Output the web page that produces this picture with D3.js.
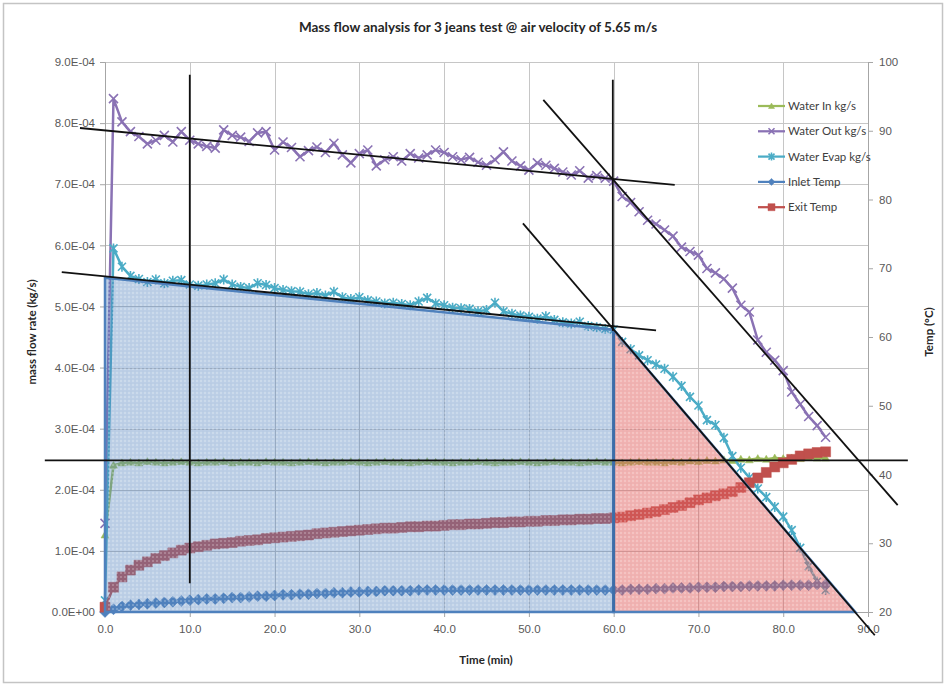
<!DOCTYPE html>
<html>
<head>
<meta charset="utf-8">
<script src="https://cdn.jsdelivr.net/npm/d3@7"></script>
<style>
  body { margin: 0; background: #fff; }
  svg { display: block; font-family: Lato, "Open Sans", sans-serif; }
</style>
</head>
<body>
<div id="chart"></div>
<script>
// time in minutes
var time = [0,1,2,3,4,5,6,7,8,9,
            10,11,12,13,14,15,16,17,18,19,
            20,21,22,23,24,25,26,27,28,29,
            30,31,32,33,34,35,36,37,38,39,
            40,41,42,43,44,45,46,47,48,49,
            50,51,52,53,54,55,56,57,58,59,
            60,61,62,63,64,65,66,67,68,69,
            70,71,72,73,74,75,76,77,78,79,
            80,81,82,83,84,85];

// mass flow values in units of 1E-04 kg/s
var waterIn = [1.26,2.40,2.44,2.45,2.44,2.46,2.45,2.44,2.45,2.46,
               2.45,2.44,2.45,2.45,2.46,2.44,2.45,2.45,2.44,2.46,
               2.45,2.45,2.44,2.45,2.46,2.45,2.44,2.45,2.45,2.46,
               2.45,2.44,2.45,2.46,2.45,2.45,2.44,2.45,2.46,2.45,
               2.45,2.44,2.45,2.45,2.46,2.45,2.44,2.45,2.45,2.46,
               2.45,2.44,2.45,2.46,2.45,2.45,2.44,2.45,2.46,2.45,
               2.45,2.44,2.45,2.46,2.45,2.45,2.44,2.46,2.45,2.47,
               2.46,2.48,2.47,2.49,2.48,2.50,2.49,2.51,2.50,2.52,
               2.51,2.52,2.51,2.53,2.52,2.52];

var waterOut = [1.45,8.40,8.02,7.86,7.78,7.66,7.72,7.80,7.69,7.86,
                7.72,7.66,7.62,7.59,7.89,7.80,7.77,7.70,7.84,7.86,
                7.56,7.69,7.60,7.45,7.55,7.61,7.52,7.67,7.48,7.35,
                7.50,7.56,7.30,7.40,7.45,7.38,7.50,7.43,7.48,7.56,
                7.52,7.45,7.40,7.44,7.36,7.31,7.40,7.53,7.38,7.30,
                7.23,7.35,7.31,7.26,7.20,7.15,7.22,7.10,7.14,7.10,
                7.05,6.80,6.70,6.55,6.41,6.35,6.25,6.15,5.97,5.90,
                5.84,5.62,5.55,5.45,5.30,5.02,4.91,4.45,4.25,4.12,
                3.95,3.60,3.40,3.20,3.05,2.86];

var waterEvap = [0.19,5.95,5.65,5.50,5.45,5.40,5.44,5.38,5.42,5.43,
                 5.36,5.34,5.36,5.38,5.44,5.36,5.32,5.30,5.38,5.35,
                 5.30,5.27,5.25,5.24,5.20,5.22,5.18,5.24,5.15,5.12,
                 5.15,5.10,5.08,5.05,5.06,5.04,5.02,5.08,5.14,5.05,
                 5.02,4.98,4.97,4.96,4.92,4.94,5.06,4.92,4.88,4.85,
                 4.83,4.80,4.84,4.78,4.74,4.72,4.75,4.68,4.66,4.63,
                 4.62,4.42,4.30,4.20,4.12,4.05,3.98,3.85,3.70,3.52,
                 3.38,3.14,3.06,2.85,2.55,2.36,2.20,2.02,1.88,1.72,
                 1.56,1.34,1.05,0.75,0.50,0.36];

// temperatures in °C (secondary axis)
var inletTemp = [20.0,20.4,20.8,21.0,21.1,21.2,21.3,21.4,21.5,21.6,
                 21.7,21.8,21.9,21.9,22.0,22.1,22.1,22.2,22.3,22.3,
                 22.4,22.5,22.5,22.6,22.6,22.7,22.7,22.8,22.8,22.9,
                 22.9,23.0,23.0,23.1,23.1,23.1,23.1,23.2,23.2,23.2,
                 23.2,23.2,23.2,23.2,23.2,23.2,23.2,23.2,23.2,23.2,
                 23.2,23.2,23.2,23.2,23.2,23.2,23.2,23.2,23.2,23.2,
                 23.2,23.2,23.3,23.3,23.3,23.4,23.4,23.5,23.5,23.5,
                 23.6,23.6,23.6,23.7,23.7,23.7,23.8,23.8,23.8,23.8,
                 23.9,23.9,23.9,23.9,24.0,24.0];

var exitTemp = [20.7,23.6,25.1,26.1,26.8,27.3,27.8,28.2,28.6,29.0,
                29.3,29.5,29.7,29.9,30.0,30.1,30.3,30.4,30.5,30.7,
                30.8,30.9,31.0,31.1,31.2,31.4,31.5,31.6,31.7,31.8,
                31.9,32.0,32.1,32.2,32.2,32.3,32.4,32.4,32.5,32.5,
                32.6,32.7,32.7,32.8,32.8,32.9,33.0,33.0,33.1,33.1,
                33.2,33.2,33.3,33.3,33.4,33.4,33.5,33.5,33.6,33.6,
                33.7,33.8,34.0,34.2,34.4,34.6,34.9,35.2,35.5,35.9,
                36.3,36.6,36.9,37.2,37.5,38.1,38.8,39.5,40.3,41.1,
                41.7,42.2,42.7,43.0,43.2,43.3];

// shaded regions (time, 1E-04 kg/s)
var blueAreaT = [0, 0, 60, 60];
var blueAreaV = [0, 5.47, 4.62, 0];
var redAreaT = [60, 60, 88.5];
var redAreaV = [0, 4.62, 0];

// hand drawn guide lines: [t1, v1, t2, v2]
var guideLines = [
  [10, 8.79, 10, 0.47],
  [59.9, 8.71, 59.9, 4.60],
  [-2.95, 7.92, 67.2, 6.99],
  [-5.1, 5.56, 65.0, 4.61],
  [51.7, 8.38, 93.5, 1.75],
  [49.3, 6.36, 90.8, -0.38],
  [-7.1, 2.48, 94.7, 2.48]
];

var xTicks = [0,10,20,30,40,50,60,70,80,90];
var yLeftTicks = [0,1,2,3,4,5,6,7,8,9];
var yRightTicks = [20,30,40,50,60,70,80,90,100];

var W = 947, H = 687;
var plot = {left: 105, right: 868, top: 62, bottom: 612};

var svg = d3.select("#chart").append("svg")
    .attr("width", W).attr("height", H);

svg.append("rect")
    .attr("x", 3.5).attr("y", 3.5)
    .attr("width", W - 8).attr("height", H - 8)
    .attr("fill", "#fff").attr("stroke", "#c4c4c4").attr("stroke-width", 1.5);

var x = d3.scaleLinear().domain([0, 90]).range([plot.left, plot.right]);
var yL = d3.scaleLinear().domain([0, 9]).range([plot.bottom, plot.top]);
var yR = d3.scaleLinear().domain([20, 100]).range([plot.bottom, plot.top]);

var defs = svg.append("defs");
var pat = defs.append("pattern")
    .attr("id", "dots").attr("width", 4).attr("height", 4)
    .attr("patternUnits", "userSpaceOnUse");
pat.append("circle").attr("cx", 1).attr("cy", 1).attr("r", 0.8)
    .attr("fill", "#ffffff").attr("opacity", 0.5);
pat.append("circle").attr("cx", 3).attr("cy", 3).attr("r", 0.5)
    .attr("fill", "#5a6f8a").attr("opacity", 0.15);

// grid
var grid = svg.append("g").attr("stroke", "#c6c6c6").attr("stroke-width", 1);
grid.selectAll(".hg").data(yLeftTicks.slice(1)).enter().append("line")
    .attr("x1", plot.left).attr("x2", plot.right)
    .attr("y1", d => Math.round(yL(d)) + 0.5).attr("y2", d => Math.round(yL(d)) + 0.5);
grid.selectAll(".vg").data(xTicks.slice(1, -1)).enter().append("line")
    .attr("y1", plot.top).attr("y2", plot.bottom)
    .attr("x1", d => Math.round(x(d)) + 0.5).attr("x2", d => Math.round(x(d)) + 0.5);

// axes
var fmtL = function(d) { return d === 0 ? "0.0E+00" : d.toFixed(1) + "E-04"; };
var axL = svg.append("g").attr("transform", "translate(" + plot.left + ",0)")
    .call(d3.axisLeft(yL).tickValues(yLeftTicks).tickFormat(fmtL).tickSize(5).tickPadding(5));
var axR = svg.append("g").attr("transform", "translate(" + plot.right + ",0)")
    .call(d3.axisRight(yR).tickValues(yRightTicks).tickFormat(d3.format("d")).tickSize(5).tickPadding(6));
var axB = svg.append("g").attr("transform", "translate(0," + plot.bottom + ")")
    .call(d3.axisBottom(x).tickValues(xTicks).tickFormat(d3.format(".1f")).tickSize(5).tickPadding(8));
[axL, axR, axB].forEach(function(a) {
  a.selectAll("path, line").attr("stroke", "#a6a6a6");
  a.selectAll("text").attr("fill", "#595959").attr("font-size", "11.5px");
});

// series
var flowSeries = [
  {name: "Water In kg/s", vals: waterIn, color: "#9BBB59", mark: "tri", axis: yL},
  {name: "Water Out kg/s", vals: waterOut, color: "#8A72B4", mark: "x", axis: yL},
  {name: "Water Evap kg/s", vals: waterEvap, color: "#4BACC6", mark: "ast", axis: yL},
  {name: "Inlet Temp", vals: inletTemp, color: "#4F81BD", mark: "dia", axis: yR},
  {name: "Exit Temp", vals: exitTemp, color: "#C0504D", mark: "sq", axis: yR}
];

var markPath = {
  tri: "M0,-4L4,3L-4,3Z",
  x: "M-4.5,-4.5L4.5,4.5M-4.5,4.5L4.5,-4.5",
  ast: "M-4,-4L4,4M-4,4L4,-4M0,-5L0,5",
  dia: "M0,-5.5L5.5,0L0,5.5L-5.5,0Z",
  sq: "M-5,-5h10v10h-10Z"
};
function drawMark(sel, s) {
  var stroked = (s.mark === "x" || s.mark === "ast");
  sel.attr("d", markPath[s.mark])
     .attr("fill", stroked ? "none" : s.color)
     .attr("stroke", s.color)
     .attr("stroke-width", stroked ? 1.6 : 0.5);
}

flowSeries.forEach(function(s) {
  var g = svg.append("g");
  var line = d3.line().x(function(d, i) { return x(time[i]); })
      .y(function(d) { return s.axis(d); });
  g.append("path").datum(s.vals)
      .attr("fill", "none").attr("stroke", s.color).attr("stroke-width", 2.5)
      .attr("d", line);
  g.selectAll("path.m").data(s.vals).enter().append("path")
      .attr("class", "m")
      .attr("transform", function(d, i) { return "translate(" + x(time[i]) + "," + s.axis(d) + ")"; })
      .call(drawMark, s);
});

// shaded areas
var poly = function(ts, vs) {
  return ts.map(function(t, i) { return [x(t), yL(vs[i])]; });
};
var polyLine = d3.line().curve(d3.curveLinearClosed);
svg.append("path").attr("d", polyLine(poly(blueAreaT, blueAreaV)))
    .attr("fill", "rgb(79,129,189)").attr("fill-opacity", 0.38);
svg.append("path").attr("d", polyLine(poly(blueAreaT, blueAreaV)))
    .attr("fill", "url(#dots)")
    .attr("stroke", "#4F81BD").attr("stroke-width", 2.5);
svg.append("path").attr("d", polyLine(poly(redAreaT, redAreaV)))
    .attr("fill", "rgb(225,95,92)").attr("fill-opacity", 0.48);
svg.append("path").attr("d", polyLine(poly(redAreaT, redAreaV)))
    .attr("fill", "url(#dots)")
    .attr("stroke", "#4F81BD").attr("stroke-width", 2.5);
svg.append("line")
    .attr("x1", x(60)).attr("x2", x(60))
    .attr("y1", yL(4.62)).attr("y2", yL(0))
    .attr("stroke", "#3D6DA8").attr("stroke-width", 3);

// black guide lines
svg.append("g").selectAll("line").data(guideLines).enter().append("line")
    .attr("x1", d => x(d[0])).attr("y1", d => yL(d[1]))
    .attr("x2", d => x(d[2])).attr("y2", d => yL(d[3]))
    .attr("stroke", "#111").attr("stroke-width", 1.8);

// legend
var legendMarks = {tri: "M0,-3L3,2.5L-3,2.5Z", x: "M-3,-3L3,3M-3,3L3,-3",
                   ast: "M-3,-3L3,3M-3,3L3,-3M0,-4L0,4", dia: "M0,-3.5L3.5,0L0,3.5L-3.5,0Z",
                   sq: "M-3.5,-3.5h7v7h-7Z"};
var leg = svg.append("g").attr("transform", "translate(758,106)");
var rows = leg.selectAll("g").data(flowSeries).enter().append("g")
    .attr("transform", function(d, i) { return "translate(0," + (i * 25.3) + ")"; });
rows.append("line").attr("x1", 0).attr("x2", 27).attr("y1", 0).attr("y2", 0)
    .attr("stroke", d => d.color).attr("stroke-width", 2.25);
rows.append("path").attr("transform", "translate(13.5,0)")
    .each(function(d) {
      drawMark(d3.select(this), d);
      d3.select(this).attr("d", legendMarks[d.mark]);
    });
rows.append("text").attr("x", 30).attr("y", 4)
    .attr("font-size", "11.5px").attr("fill", "#404040")
    .text(d => d.name);

// titles
svg.append("text").attr("x", 478).attr("y", 32).attr("text-anchor", "middle")
    .attr("font-size", "13.5px").attr("font-weight", "bold").attr("fill", "#262626")
    .text("Mass flow analysis for 3 jeans test @ air velocity of 5.65 m/s");
svg.append("text").attr("transform", "translate(36,332) rotate(-90)")
    .attr("text-anchor", "middle").attr("font-size", "11.5px").attr("font-weight", "bold")
    .attr("fill", "#262626").text("mass flow rate (kg/s)");
svg.append("text").attr("transform", "translate(933,332) rotate(-90)")
    .attr("text-anchor", "middle").attr("font-size", "11.5px").attr("font-weight", "bold")
    .attr("fill", "#262626").text("Temp (°C)");
svg.append("text").attr("x", 486).attr("y", 664).attr("text-anchor", "middle")
    .attr("font-size", "11.5px").attr("font-weight", "bold").attr("fill", "#262626")
    .text("Time (min)");
</script>
</body>
</html>
